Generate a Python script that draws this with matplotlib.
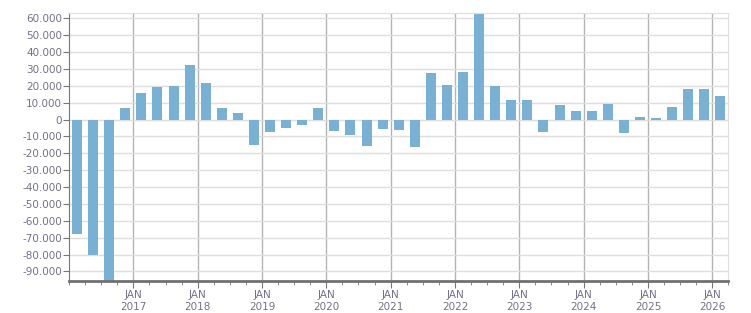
import numpy as np
import matplotlib.pyplot as plt
from matplotlib.ticker import FuncFormatter, MultipleLocator

# quarterly values, Q1 2016 .. Q1 2026
quarters = ['2016Q1', '2016Q2', '2016Q3', '2016Q4',
            '2017Q1', '2017Q2', '2017Q3', '2017Q4',
            '2018Q1', '2018Q2', '2018Q3', '2018Q4',
            '2019Q1', '2019Q2', '2019Q3', '2019Q4',
            '2020Q1', '2020Q2', '2020Q3', '2020Q4',
            '2021Q1', '2021Q2', '2021Q3', '2021Q4',
            '2022Q1', '2022Q2', '2022Q3', '2022Q4',
            '2023Q1', '2023Q2', '2023Q3', '2023Q4',
            '2024Q1', '2024Q2', '2024Q3', '2024Q4',
            '2025Q1', '2025Q2', '2025Q3', '2025Q4',
            '2026Q1']
values = [-68100, -80500, -97000, 6900,
          15800, 19300, 19900, 32400,
          21700, 6900, 3900, -14800,
          -7100, -4700, -3000, 6900,
          -6500, -8900, -15400, -5300,
          -5900, -16000, 27600, 20500,
          28200, 62600, 19900, 11600,
          11600, -7300, 8700, 5100,
          5100, 9300, -7900, 1600,
          1000, 7500, 18200, 18200,
          14000]
years = list(range(2017, 2027))
year_labels = [f"JAN\n{y}" for y in years]


def quarter_mid(q):
    y, n = q.split('Q')
    return int(y) + (int(n) - 1) * 0.25 + 0.125


text_col = '#74708a'
x = np.array([quarter_mid(q) for q in quarters])

fig = plt.figure(figsize=(7.51, 3.13), dpi=100)
ax = fig.add_axes([0.0919, 0.1032, 0.878, 0.8553])
ax.set_axisbelow(True)
ax.bar(x, values, width=0.155, color='#78b1d4', zorder=2)

ax.set_xlim(2016.0, 2026.25)
ax.set_ylim(-95500, 63200)

ax.yaxis.set_major_locator(MultipleLocator(10000))
ax.yaxis.set_major_formatter(FuncFormatter(lambda v, p: f"{int(v):,}".replace(',', '.')))
ax.set_xticks(years)
ax.set_xticklabels(year_labels)
ax.xaxis.set_minor_locator(MultipleLocator(0.25))

ax.grid(axis='y', color='#dedede', lw=1)
ax.grid(axis='x', which='major', color='#b4b4b4', lw=1)

for s in ['top', 'right']:
    ax.spines[s].set_color('#dedede')
ax.spines['left'].set_color('#777777')
ax.spines['bottom'].set_color('#707070')
ax.spines['bottom'].set_linewidth(2)

ax.tick_params(axis='y', length=4, color='#777777', labelcolor=text_col, labelsize=7.5, pad=1)
ax.tick_params(axis='x', which='major', length=5, color='#777777', labelcolor=text_col,
               labelsize=7.5, pad=2)
ax.tick_params(axis='x', which='minor', length=3, color='#777777')
for t in ax.get_xticklabels():
    t.set_linespacing(1.15)

plt.savefig('out.png', dpi=100)
